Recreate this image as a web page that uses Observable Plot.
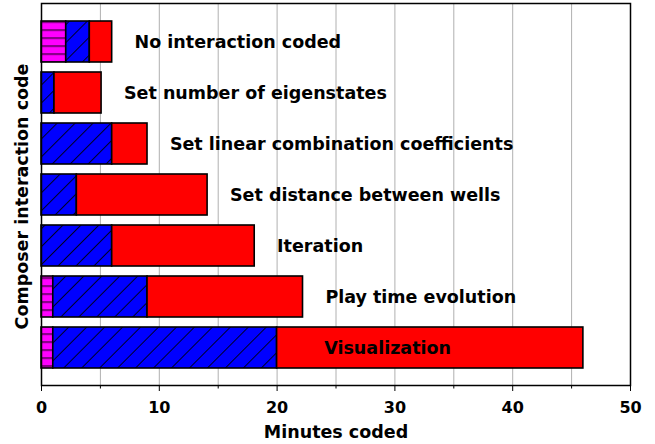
<!DOCTYPE html>
<html>
<head>
<meta charset="utf-8">
<script src="https://cdn.jsdelivr.net/npm/d3@7"></script>
<script src="https://cdn.jsdelivr.net/npm/@observablehq/plot@0.6"></script>
<style>
  html, body { margin: 0; padding: 0; background: #fff; }
  svg { font-family: "DejaVu Sans", sans-serif; }
</style>
</head>
<body>
<div id="chart"></div>
<script>
const categories = [
  "No interaction coded",
  "Set number of eigenstates",
  "Set linear combination coefficients",
  "Set distance between wells",
  "Iteration",
  "Play time evolution",
  "Visualization"
];
const seriesNames = ["S1", "S2", "S3"];
const magentaValues = [2.1, 0, 0, 0, 0, 1, 1];
const blueValues = [2.0, 1.1, 6, 3, 6, 8, 19];
const redValues = [1.9, 4.0, 3, 11.1, 12.1, 13.2, 26];
const majorTicks = [0, 10, 20, 30, 40, 50];
const minorTicks = [5, 15, 25, 35, 45];
const gridTicks = [5, 10, 15, 20, 25, 30, 35, 40, 45];

const rows = [];
categories.forEach((c, i) => {
  rows.push({cat: c, series: seriesNames[0], value: magentaValues[i]});
  rows.push({cat: c, series: seriesNames[1], value: blueValues[i]});
  rows.push({cat: c, series: seriesNames[2], value: redValues[i]});
});
const totals = categories.map((c, i) => ({
  cat: c,
  total: magentaValues[i] + blueValues[i] + redValues[i]
}));
const labelRows = totals.map(d => ({cat: d.cat, x: d.total + 2 > 40 ? 24 : d.total + 1.9}));

const plot = Plot.plot({
  width: 655,
  height: 444,
  marginLeft: 41,
  marginRight: 25,
  marginTop: 3,
  marginBottom: 59,
  style: {fontFamily: "DejaVu Sans, sans-serif", background: "#fff"},
  x: {domain: [0, 50]},
  y: {domain: categories, paddingInner: 0.2, paddingOuter: 0.33, axis: null},
  color: {type: "ordinal", domain: seriesNames, range: ["url(#hatchM)", "url(#hatchB)", "#ff0000"]},
  marks: [
    Plot.gridX(gridTicks, {stroke: "#b0b0b0", strokeOpacity: 1, strokeWidth: 1}),
    Plot.barX(rows, Plot.stackX({
      y: "cat", x: "value", fill: "series", order: null,
      stroke: "#000", strokeWidth: 1.6
    })),
    Plot.text(labelRows, {
      y: "cat", x: "x", text: "cat", textAnchor: "start",
      fontSize: 17.5, fontWeight: "bold", fill: "#000"
    }),
    Plot.axisX(majorTicks, {tickSize: 6, tickPadding: 10, fontSize: 16, fontWeight: "bold", label: null, stroke: "#000", fill: "#000"}),
    Plot.axisX(minorTicks, {tickSize: 3.5, text: null, label: null, stroke: "#000"}),
    Plot.frame({stroke: "#000", strokeWidth: 1.5}),
    Plot.text(["Minutes coded"], {frameAnchor: "bottom", dy: 47, lineAnchor: "middle", fontSize: 17.5, fontWeight: "bold", fill: "#000"}),
    Plot.text(["Composer interaction code"], {frameAnchor: "left", dx: -19, dy: 2, rotate: -90, textAnchor: "middle", lineAnchor: "middle", fontSize: 17.5, fontWeight: "bold", fill: "#000"})
  ]
});

const ns = "http://www.w3.org/2000/svg";
const defs = document.createElementNS(ns, "defs");
defs.innerHTML = `
  <pattern id="hatchM" patternUnits="userSpaceOnUse" width="8" height="8">
    <rect width="8" height="8" fill="#ff00ff"/>
    <rect y="5" width="8" height="2.2" fill="#8a008a"/>
  </pattern>
  <pattern id="hatchB" patternUnits="userSpaceOnUse" width="12.7" height="12.7" patternTransform="rotate(45)">
    <rect width="12.7" height="12.7" fill="#0000ff"/>
    <line x1="0" y1="0" x2="0" y2="12.7" stroke="#000" stroke-width="1.7"/>
  </pattern>`;
plot.insertBefore(defs, plot.firstChild);
document.getElementById("chart").appendChild(plot);
</script>
</body>
</html>
